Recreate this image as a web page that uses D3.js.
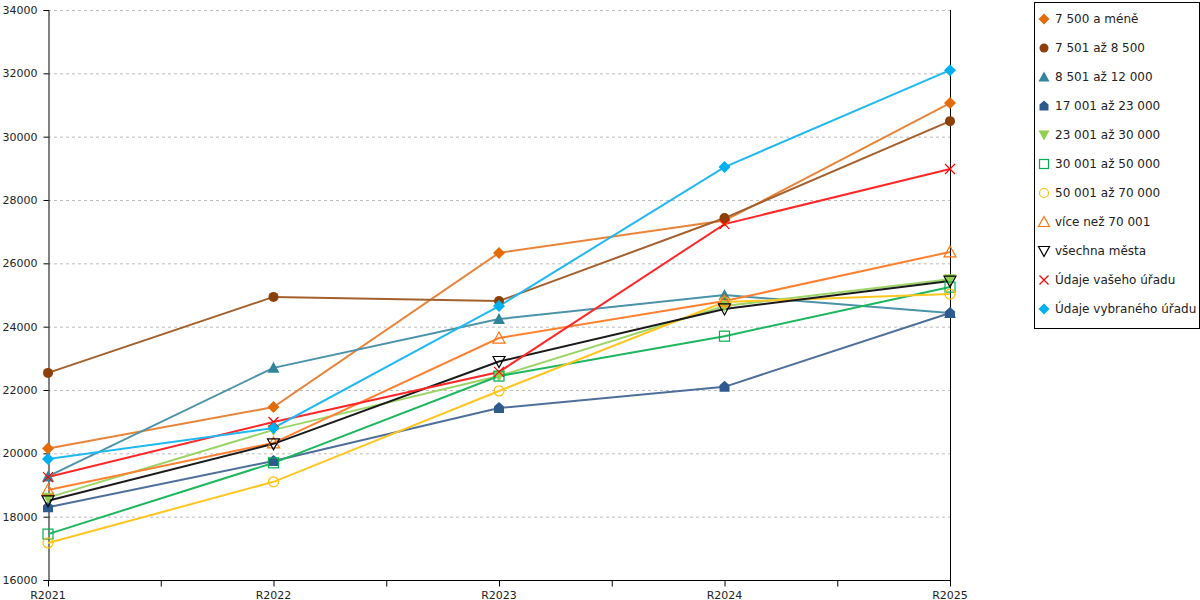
<!DOCTYPE html>
<html lang="cs">
<head>
<meta charset="UTF-8">
<title>Vývoj 2021–2025</title>
<script src="https://d3js.org/d3.v7.min.js"></script>
<style>
    body { margin: 0; background: #fff; font-family: "DejaVu Sans", sans-serif; }
    .axis text { font-size: 11px; fill: #222; font-family: "DejaVu Sans", sans-serif; }
    .legend text { font-size: 12px; fill: #222; }
</style>
</head>
<body>
<div id="chart"></div>
<script>
// categories and tick values
const years = ["R2021", "R2022", "R2023", "R2024", "R2025"];
const yTicks = [16000, 18000, 20000, 22000, 24000, 26000, 28000, 30000, 32000, 34000];

// series values
const s7500 = [20150, 21460, 26330, 27350, 31060];
const s7501 = [22540, 24940, 24810, 27430, 30490];
const s8501 = [19270, 22700, 24240, 25000, 24430];
const s17001 = [18300, 19760, 21430, 22100, 24430];
const s23001 = [18600, 20740, 22440, 24650, 25500];
const s30001 = [17450, 19700, 22440, 23700, 25250];
const s50001 = [17170, 19100, 21970, 24780, 25030];
const s70001 = [18840, 20330, 23640, 24810, 26360];
const sAll = [18500, 20300, 22900, 24560, 25440];
const sYours = [19250, 20990, 22570, 27240, 28980];
const sSelected = [19820, 20800, 24650, 29040, 32100];

const names = ["7 500 a méně", "7 501 až 8 500", "8 501 až 12 000", "17 001 až 23 000",
    "23 001 až 30 000", "30 001 až 50 000", "50 001 až 70 000", "více než 70 001",
    "všechna města", "Údaje vašeho úřadu", "Údaje vybraného úřadu"];
const values = [s7500, s7501, s8501, s17001, s23001, s30001, s50001, s70001, sAll, sYours, sSelected];
const colors = ["#e36c09", "#8b4008", "#31849b", "#2f5a8e", "#92d050", "#00b050",
    "#ffc000", "#ff7414", "#000000", "#ff0000", "#00b0f0"];
const lineColors = ["#e8843a", "#a4602c", "#4a93a8", "#4f6f9a", "#9dd468", "#1db65e",
    "#ffc520", "#ff8030", "#1a1a1a", "#ff2828", "#20b8f0"];
const shapes = ["diamond", "circle", "triangle", "house", "down", "square",
    "ocircle", "otriangle", "odown", "cross", "diamond"];

const series = names.map((n, i) => ({ name: n, values: values[i], color: colors[i], lineColor: lineColors[i], shape: shapes[i] }));

const W = 1200, H = 600;
const plot = { left: 48, right: 950, top: 10, bottom: 580 };

const svg = d3.select("#chart").append("svg")
    .attr("width", W).attr("height", H);

const x = d3.scalePoint().domain(years).range([plot.left, plot.right]).padding(0);
const y = d3.scaleLinear().domain([16000, 34000]).range([plot.bottom, plot.top]);

// grid
svg.append("g")
    .selectAll("line")
    .data(yTicks.slice(1))
    .join("line")
    .attr("x1", plot.left).attr("x2", plot.right)
    .attr("y1", d => y(d) + 0.5).attr("y2", d => y(d) + 0.5)
    .attr("stroke", "#bdbdbd")
    .attr("stroke-dasharray", "3,3");

// right border
svg.append("line")
    .attr("x1", plot.right + 0.5).attr("x2", plot.right + 0.5)
    .attr("y1", plot.top).attr("y2", plot.bottom)
    .attr("stroke", "#000");

// y axis
const yAxis = svg.append("g")
    .attr("class", "axis")
    .attr("transform", `translate(${plot.left + 0.5},0)`)
    .call(d3.axisLeft(y).tickValues(yTicks).tickFormat(d3.format("d")).tickSize(5).tickPadding(6));
yAxis.select(".domain").attr("stroke", "#000");

// x axis: ticks at categories and between them
const step = x.step();
const xTickPos = [];
years.forEach((yr, i) => {
    xTickPos.push(x(yr));
    if (i < years.length - 1) xTickPos.push(x(yr) + step / 2);
});
const xAxis = svg.append("g")
    .attr("class", "axis")
    .attr("transform", `translate(0,${plot.bottom + 0.5})`);
xAxis.append("line")
    .attr("x1", plot.left).attr("x2", plot.right + 1)
    .attr("stroke", "#000");
xAxis.selectAll(".tk")
    .data(xTickPos)
    .join("line")
    .attr("x1", d => d + 0.5).attr("x2", d => d + 0.5)
    .attr("y1", 0).attr("y2", 6)
    .attr("stroke", "#000");
xAxis.selectAll("text")
    .data(years)
    .join("text")
    .attr("x", d => x(d))
    .attr("y", 18)
    .attr("text-anchor", "middle")
    .text(d => d);

// marker drawing
function drawMarker(g, shape, color, s) {
    const h = s / 2;
    switch (shape) {
        case "diamond":
            g.append("path").attr("d", `M0,${-h - 1}L${h + 1},0L0,${h + 1}L${-h - 1},0Z`).attr("fill", color);
            break;
        case "circle":
            g.append("circle").attr("r", h).attr("fill", color);
            break;
        case "triangle":
            g.append("path").attr("d", `M0,${-h - 1}L${h + 1},${h}L${-h - 1},${h}Z`).attr("fill", color);
            break;
        case "house":
            g.append("path").attr("d", `M0,${-h - 1}L${h},${-h / 3}L${h},${h}L${-h},${h}L${-h},${-h / 3}Z`).attr("fill", color);
            break;
        case "down":
            g.append("path").attr("d", `M${-h - 1},${-h}L${h + 1},${-h}L0,${h + 1}Z`).attr("fill", color);
            break;
        case "square":
            g.append("rect").attr("x", -h).attr("y", -h).attr("width", s).attr("height", s)
                .attr("fill", "none").attr("stroke", color).attr("stroke-width", 1.2);
            break;
        case "ocircle":
            g.append("circle").attr("r", h).attr("fill", "none").attr("stroke", color).attr("stroke-width", 1.2);
            break;
        case "otriangle":
            g.append("path").attr("d", `M0,${-h - 1}L${h + 1},${h}L${-h - 1},${h}Z`)
                .attr("fill", "none").attr("stroke", color).attr("stroke-width", 1.2);
            break;
        case "odown":
            g.append("path").attr("d", `M${-h - 1},${-h}L${h + 1},${-h}L0,${h + 1}Z`)
                .attr("fill", "none").attr("stroke", color).attr("stroke-width", 1.2);
            break;
        case "cross":
            g.append("path").attr("d", `M${-h},${-h}L${h},${h}M${h},${-h}L${-h},${h}`)
                .attr("stroke", color).attr("stroke-width", 1.2);
            break;
    }
}

const line = d3.line()
    .x((d, i) => x(years[i]))
    .y(d => y(d));

const lines = svg.append("g");
series.forEach(s => {
    lines.append("path")
        .datum(s.values)
        .attr("fill", "none")
        .attr("stroke", s.lineColor)
        .attr("stroke-width", 2)
        .attr("d", line);
});

const marks = svg.append("g");
series.forEach(s => {
    s.values.forEach((v, i) => {
        const g = marks.append("g").attr("transform", `translate(${x(years[i])},${y(v)})`);
        drawMarker(g, s.shape, s.color, 10);
    });
});

// legend
const legend = svg.append("g").attr("class", "legend");
legend.append("rect")
    .attr("x", 1034.5).attr("y", 2.5)
    .attr("width", 165).attr("height", 326)
    .attr("fill", "#fff").attr("stroke", "#000");
series.forEach((s, i) => {
    const ly = 19 + i * 29;
    const g = legend.append("g").attr("transform", `translate(1044,${ly})`);
    drawMarker(g, s.shape, s.color, 9);
    legend.append("text")
        .attr("x", 1055).attr("y", ly)
        .attr("dy", "0.35em")
        .text(s.name);
});
</script>
</body>
</html>
